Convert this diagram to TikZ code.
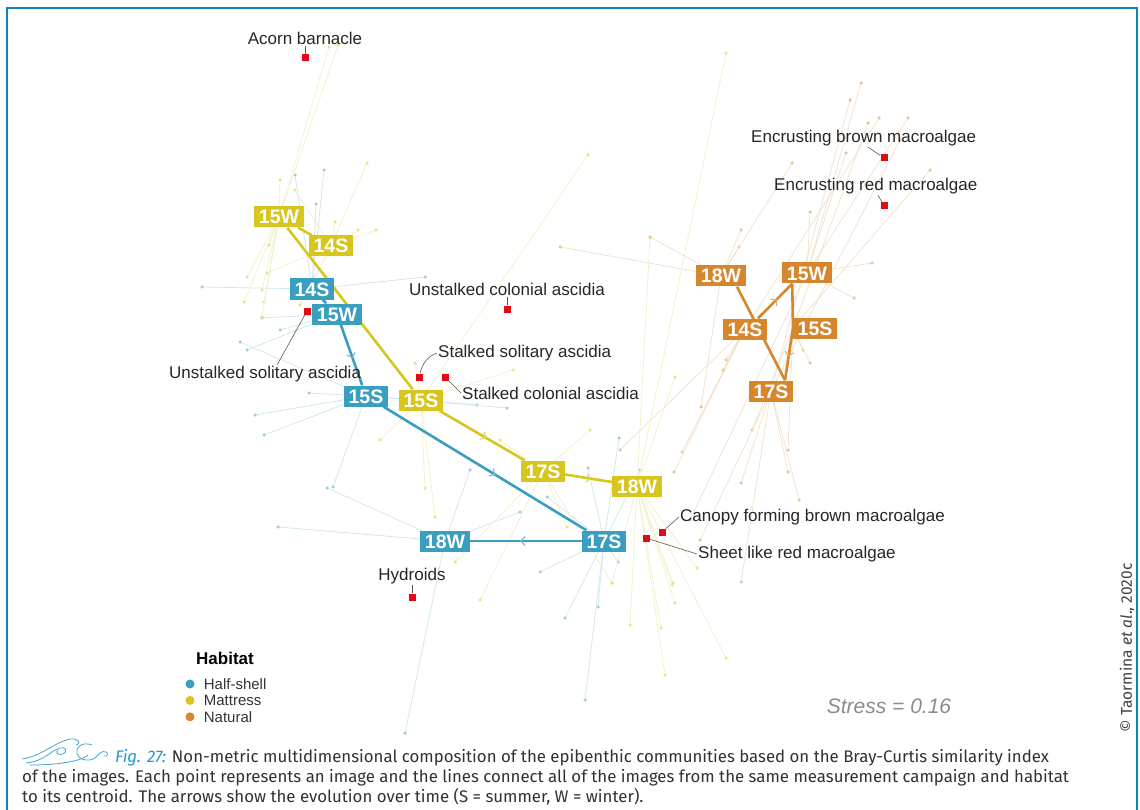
\documentclass[tikz,border=0pt]{standalone}
\usepackage{fontspec}
\setmainfont{Liberation Sans}
\newfontfamily\capfont{Fira Sans}
\usetikzlibrary{positioning,arrows.meta,decorations.markings,backgrounds,calc}

\definecolor{hsblue}{RGB}{58,158,192}
\definecolor{mtyellow}{RGB}{214,198,30}
\definecolor{ntorange}{RGB}{214,134,44}
\definecolor{frameblue}{RGB}{18,128,196}
\definecolor{capblue}{RGB}{40,150,210}
\definecolor{capgray}{RGB}{50,50,50}
\definecolor{taxred}{RGB}{228,10,20}

\tikzset{
  faint/.style={draw=#1!26, line width=0.7pt},
  sample/.style={circle, fill=#1!50, inner sep=0pt, minimum size=3.5pt},
  cbox/.style={fill=#1, text=white, font=\bfseries\fontsize{19.5}{19.5}\selectfont,
    inner xsep=4.5pt, inner ysep=3.5pt, text height=14pt, text depth=0pt},
  trend/.style={draw=#1, line width=2.6pt},
  midarrow/.style={postaction={decorate, decoration={markings,
    mark=at position 0.55 with {\arrow[color=#1!70, line width=1.1pt]{Straight Barb[length=4pt, width=9pt]}}}}},
  taxon/.style={fill=taxred, inner sep=0pt, minimum size=7pt},
  taxlabel/.style={font=\fontsize{17}{17}\selectfont, text=black!85, inner sep=1pt},
  leader/.style={draw=black!65, line width=0.6pt},
  legdot/.style={circle, fill=#1, inner sep=0pt, minimum size=9pt},
  legtext/.style={font=\fontsize{15}{15}\selectfont, text=black!80, inner sep=1pt},
  wave/.style={draw=capblue!85, line width=0.8pt},
}

\begin{document}
\begin{tikzpicture}[x=1pt, y=-1pt]
  \useasboundingbox (0,0) rectangle (1140,810);

  \node[cbox=mtyellow] (m15w) at (279,217) {15W};
  \node[cbox=mtyellow] (m14s) at (331,246) {14S};
  \node[cbox=mtyellow] (m15s) at (421,400) {15S};
  \node[cbox=mtyellow] (m17s) at (543,471) {17S};
  \node[cbox=mtyellow] (m18w) at (637,486) {18W};

  \node[cbox=hsblue] (h14s) at (312,289) {14S};
  \node[cbox=hsblue] (h15w) at (337,314) {15W};
  \node[cbox=hsblue] (h15s) at (366,396) {15S};
  \node[cbox=hsblue] (h17s) at (604,541) {17S};
  \node[cbox=hsblue] (h18w) at (445,541) {18W};

  \node[cbox=ntorange] (n18w) at (721,276) {18W};
  \node[cbox=ntorange] (n15w) at (807,273) {15W};
  \node[cbox=ntorange] (n14s) at (745,329) {14S};
  \node[cbox=ntorange] (n15s) at (815,328) {15S};
  \node[cbox=ntorange] (n17s) at (771,391) {17S};

  \node[taxon] (acorn) at (305,58) {};
  \node[taxlabel, above=8pt of acorn] (lacorn) {Acorn barnacle};
  \node[taxon] (ebrown) at (884,158) {};
  \node[taxlabel, anchor=west] (lbrown) at (750,138) {Encrusting brown macroalgae};
  \node[taxon] (ered) at (884,206) {};
  \node[taxlabel, anchor=west] (lred) at (773,186) {Encrusting red macroalgae};
  \node[taxon] (ucol) at (507,309) {};
  \node[taxlabel, above=8pt of ucol] (lucol) {Unstalked colonial ascidia};
  \node[taxon] (usol) at (307,311) {};
  \node[taxlabel, anchor=west] (lusol) at (168,374) {Unstalked solitary ascidia};
  \node[taxon] (ssol) at (419,377) {};
  \node[taxlabel, anchor=west] (lssol) at (437,353) {Stalked solitary ascidia};
  \node[taxon] (scol) at (445,377) {};
  \node[taxlabel, anchor=west] (lscol) at (461,393) {Stalked colonial ascidia};
  \node[taxon] (canopy) at (662,532) {};
  \node[taxlabel, anchor=west] (lcanopy) at (679,517) {Canopy forming brown macroalgae};
  \node[taxon] (sheet) at (646,538) {};
  \node[taxlabel, anchor=west] (lsheet) at (697,554) {Sheet like red macroalgae};
  \node[taxon] (hydro) at (412,597) {};
  \node[taxlabel, above=8pt of hydro] (lhydro) {Hydroids};

  \draw[leader] (lacorn) -- (acorn);
  \draw[leader] ([xshift=118pt]lbrown.south west) -- (ebrown);
  \draw[leader] ([xshift=105pt]lred.south west) -- (ered);
  \draw[leader] (lucol) -- (ucol);
  \draw[leader] ([xshift=12pt]lusol.north) -- (usol);
  \draw[leader] (ssol) to[out=75, in=200] (lssol.west);
  \draw[leader] (scol) -- (lscol.west);
  \draw[leader] (canopy) -- (lcanopy.west);
  \draw[leader] (sheet) -- (lsheet.west);
  \draw[leader] (lhydro) -- (hydro);

  \begin{scope}[on background layer]
    \fill[white] (0,0) rectangle (1140,810);

    \foreach \p in {(202,287),(316,204),(324,170),(295,175),(425,277)}
      \draw[faint=hsblue] (h14s.center) -- \p node[sample=hsblue] {};
    \foreach \p in {(247,350),(280,330),(262,318)}
      \draw[faint=hsblue] (h15w.center) -- \p node[sample=hsblue] {};
    \foreach \p in {(255,415),(264,435),(309,393),(333,487),(477,405),(240,342),(507,408)}
      \draw[faint=hsblue] (h15s.center) -- \p node[sample=hsblue] {};
    \foreach \p in {(278,527),(327,488),(405,733),(470,470),(520,512)}
      \draw[faint=hsblue] (h18w.center) -- \p node[sample=hsblue] {};
    \foreach \p in {(619,438),(588,468),(547,497),(540,572),(598,607),(565,618),(618,562),(585,700),(640,470)}
      \draw[faint=hsblue] (h17s.center) -- \p node[sample=hsblue] {};

    \foreach \p in {(329,47),(338,45),(280,180),(262,290),(264,302),(247,277),(244,302),(262,317),(269,245)}
      \draw[faint=mtyellow] (m15w.center) -- \p node[sample=mtyellow] {};
    \foreach \p in {(367,163),(376,230),(358,230),(335,222),(295,190),(267,273),(300,305)}
      \draw[faint=mtyellow] (m14s.center) -- \p node[sample=mtyellow] {};
    \foreach \p in {(415,363),(513,370),(425,488),(435,517),(588,155),(380,440)}
      \draw[faint=mtyellow] (m15s.center) -- \p node[sample=mtyellow] {};
    \foreach \p in {(455,562),(567,527),(612,583),(480,600),(500,440),(590,430)}
      \draw[faint=mtyellow] (m17s.center) -- \p node[sample=mtyellow] {};
    \foreach \p in {(726,53),(650,238),(675,377),(697,568),(672,585),(661,628),(630,625),(726,658),(665,675),(675,603),(673,583),(612,583)}
      \draw[faint=mtyellow] (m18w.center) -- \p node[sample=mtyellow] {};

    \foreach \p in {(560,247),(650,237),(741,230),(739,247),(792,163),(701,407)}
      \draw[faint=ntorange] (n18w.center) -- \p node[sample=ntorange] {};
    \foreach \p in {(861,83),(908,118),(872,263),(854,298),(810,212),(846,153),(690,520)}
      \draw[faint=ntorange] (n15w.center) -- \p node[sample=ntorange] {};
    \foreach \p in {(682,452),(674,472),(726,360),(723,370),(879,118),(620,450)}
      \draw[faint=ntorange] (n14s.center) -- \p node[sample=ntorange] {};
    \foreach \p in {(868,123),(803,350),(810,363),(788,450),(752,430),(930,170)}
      \draw[faint=ntorange] (n15s.west) -- \p node[sample=ntorange] {};
    \foreach \p in {(900,140),(741,582),(788,472),(799,500),(741,483),(700,540),(850,100)}
      \draw[faint=ntorange] (n17s.center) -- \p node[sample=ntorange] {};

    \draw[trend=hsblue] (h14s) -- (h15w);
    \draw[trend=hsblue, midarrow=hsblue] (h15w) -- (h15s);
    \draw[trend=hsblue, midarrow=hsblue] (h15s) -- (h17s);
    \draw[trend=hsblue, midarrow=hsblue] (h17s) -- (h18w);

    \draw[trend=mtyellow] (m14s) -- (m15w);
    \draw[trend=mtyellow, midarrow=mtyellow] (m15w) -- (m15s);
    \draw[trend=mtyellow, midarrow=mtyellow] (m15s) -- (m17s);
    \draw[trend=mtyellow, midarrow=mtyellow] (m17s) -- (m18w);

    \draw[trend=ntorange, midarrow=ntorange] ([xshift=13pt]n14s.north) -- ([xshift=10pt]n15w.south west);
    \draw[trend=ntorange] ([xshift=10pt]n15w.south west) -- (n15s.west);
    \draw[trend=ntorange, midarrow=ntorange] (n15s.west) -- ([xshift=14pt]n17s.north);
    \draw[trend=ntorange, midarrow=ntorange] ([xshift=14pt]n17s.north) -- ([xshift=16pt]n18w.south);
  \end{scope}

  \node[font=\bfseries\fontsize{17}{17}\selectfont, anchor=west, inner sep=1pt] (habitat) at (195,658) {Habitat};
  \node[legdot=hsblue] (khs) at (190,684) {};
  \node[legtext, right=8pt of khs] (lkhs) {Half-shell};
  \node[legdot=mtyellow, below=7pt of khs] (kmt) {};
  \node[legtext, right=8pt of kmt] (lkmt) {Mattress};
  \node[legdot=ntorange, below=7pt of kmt] (knt) {};
  \node[legtext, right=8pt of knt] (lknt) {Natural};

  \node[font=\itshape\fontsize{21}{21}\selectfont, text=black!45] (stress) at (889,706) {Stress = 0.16};

  \draw[wave] (22,759) .. controls (40,757) and (55,742) .. (70,739) .. controls (78,738) and (82,743) .. (76,745);
  \draw[wave] (26,763) .. controls (45,761) and (50,751) .. (60,748) .. controls (66,746) and (68,752) .. (63,754) .. controls (58,756) and (55,752) .. (58,750);
  \draw[wave] (30,765) .. controls (55,765) and (80,762) .. (88,755);
  \draw[wave] (92,745) .. controls (82,741) and (75,748) .. (77,754) .. controls (79,760) and (89,762) .. (95,758);
  \draw[wave] (95,758) .. controls (99,754) and (102,750) .. (106,752) .. controls (109,754) and (107,757) .. (104,756);

  \node[font=\capfont\fontsize{16.8}{16.8}\selectfont, text=capgray, anchor=base west, inner sep=0pt] (cap1) at (115,762)
    {\textcolor{capblue}{\itshape Fig. 27:} Non-metric multidimensional composition of the epibenthic communities based on the Bray-Curtis similarity index};
  \node[font=\capfont\fontsize{16.8}{16.8}\selectfont, text=capgray, anchor=base west, inner sep=0pt] (cap2) at (22,782)
    {of the images. Each point represents an image and the lines connect all of the images from the same measurement campaign and habitat};
  \node[font=\capfont\fontsize{16.8}{16.8}\selectfont, text=capgray, anchor=base west, inner sep=0pt] (cap3) at (22,802)
    {to its centroid. The arrows show the evolution over time (S = summer, W = winter).};

  \node[rotate=90, font=\capfont\fontsize{15.5}{15.5}\selectfont, text=black!75] (copy) at (1127,648)
    {\textcopyright{} Taormina \textit{et al}., 2020c};

  \draw[frameblue, line width=2pt] (7,810) -- (7,8) -- (1137,8) -- (1137,810);
\end{tikzpicture}
\end{document}
